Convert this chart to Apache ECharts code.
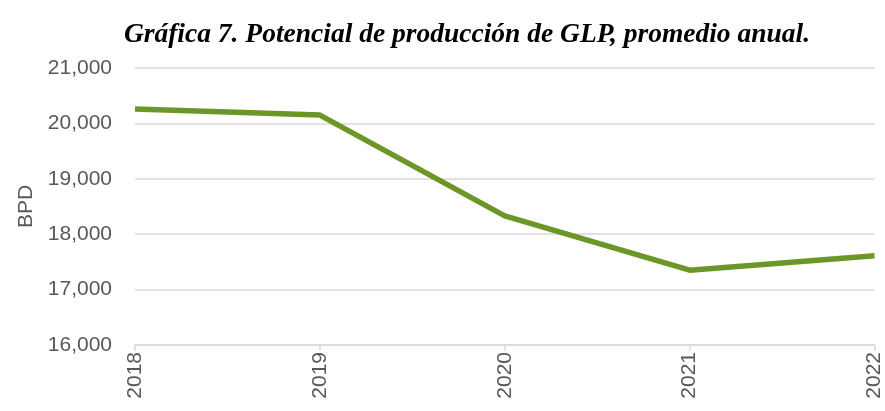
<!DOCTYPE html>
<html>
<head>
<meta charset="utf-8">
<script src="https://cdn.jsdelivr.net/npm/echarts@6/dist/echarts.min.js"></script>
<style>
  html, body { margin: 0; padding: 0; background: #fff; }
  #main { width: 885px; height: 411px; }
</style>
</head>
<body>
<div id="main"></div>
<script>
// datos
var years = ['2018', '2019', '2020', '2021', '2022'];
var bpd = [20260, 20150, 18330, 17350, 17610];

var chart = echarts.init(document.getElementById('main'));
chart.setOption({
    animation: false,
    title: {
        text: 'Gráfica 7. Potencial de producción de GLP, promedio anual.',
        left: 462,
        textAlign: 'center',
        top: 16,
        textStyle: {
            fontFamily: 'Liberation Serif',
            fontStyle: 'italic',
            fontWeight: 'bold',
            fontSize: 27.5,
            color: '#000'
        }
    },
    grid: { left: 135, right: 9, top: 68, bottom: 66 },
    xAxis: {
        type: 'category',
        boundaryGap: false,
        data: years,
        axisLine: { lineStyle: { color: '#d9d9d9', width: 1.5 } },
        axisTick: { show: true, length: 6, lineStyle: { color: '#d9d9d9', width: 1.5 } },
        axisLabel: {
            rotate: 90,
            margin: 7,
            color: '#595959',
            fontFamily: 'Liberation Sans',
            fontSize: 21
        }
    },
    yAxis: {
        type: 'value',
        min: 16000,
        max: 21000,
        interval: 1000,
        name: 'BPD',
        nameLocation: 'middle',
        nameGap: 98,
        nameRotate: 90,
        nameTextStyle: { color: '#595959', fontFamily: 'Liberation Sans', fontSize: 21 },
        axisLine: { show: false },
        axisTick: { show: false },
        splitLine: { lineStyle: { color: '#d9d9d9', width: 1.5 } },
        axisLabel: {
            margin: 23,
            color: '#595959',
            fontFamily: 'Liberation Sans',
            fontSize: 21,
            formatter: function (v) { return v.toLocaleString('en-US'); }
        }
    },
    series: [{
        type: 'line',
        data: bpd,
        showSymbol: false,
        lineStyle: { color: '#6d9628', width: 5.5 },
        itemStyle: { color: '#6d9628' }
    }]
});
</script>
</body>
</html>
